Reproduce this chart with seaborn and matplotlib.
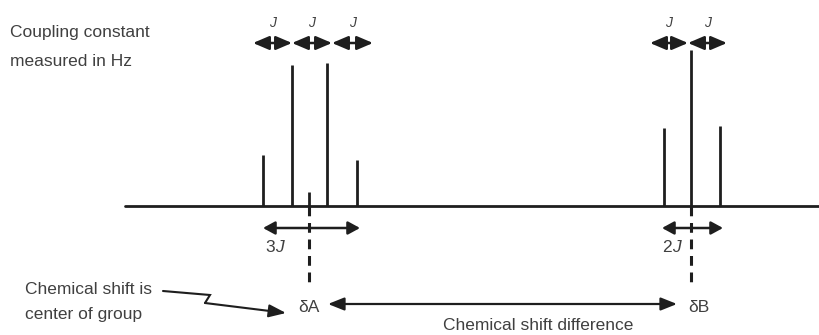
import matplotlib
matplotlib.use("Agg")
import matplotlib.pyplot as plt
import seaborn as sns
import pandas as pd

# ---- data (positions along the frequency axis, relative intensities) ----
quartet_pos = [263, 292, 327, 357]
quartet_int = [51, 141, 143, 46]
quartet_center = 309
quartet_center_int = 14
triplet_pos = [664, 691, 720]
triplet_int = [78, 156, 80]
J_labels_A = ["J", "J", "J"]
J_labels_B = ["J", "J"]

sns.set_theme(style="white")
plt.rcParams['font.family'] = ['Liberation Sans', 'DejaVu Sans']

fig = plt.figure(figsize=(8.19, 3.35), dpi=100)
ax = fig.add_axes([0, 0, 1, 1])
ax.set_xlim(0, 819)
ax.set_ylim(335, 0)
ax.axis("off")

base = 206
ink = "#1e1e1e"
txt = "#404040"
fs = 12.5

df = pd.DataFrame({
    "pos": quartet_pos + [quartet_center] + triplet_pos,
    "int": quartet_int + [quartet_center_int] + triplet_int,
})
df["top"] = base - df["int"]

# baseline
sns.lineplot(x=[125, 819], y=[base, base], ax=ax, color=ink, lw=2)
# peaks
ax.vlines(df["pos"], df["top"], base, color=ink, lw=2)

# dashed center lines
for c in [quartet_center, triplet_pos[1]]:
    ax.plot([c, c], [base, 282], color=ink, lw=2.2, ls=(0, (3.2, 2.2)))

def darrow(x0, x1, y, ms=13, hl=0.55, hw=0.3, lw=1.8):
    ax.annotate("", xy=(x1, y), xytext=(x0, y),
                arrowprops=dict(arrowstyle=f"<|-|>,head_length={hl},head_width={hw}",
                                color=ink, lw=lw, mutation_scale=ms,
                                shrinkA=0, shrinkB=0))

jfont = dict(fontsize=10, style="italic", color=txt, ha="center", va="center",
             family=["Liberation Sans", "DejaVu Sans"])

# J arrows (top)
edgesA = [253, 292, 332, 373]
for i in range(3):
    darrow(edgesA[i], edgesA[i + 1], 43, hl=0.75, hw=0.32)
    ax.text((edgesA[i] + edgesA[i + 1]) / 2, 23, J_labels_A[i], **jfont)
edgesB = [650, 688, 727]
for i in range(2):
    darrow(edgesB[i], edgesB[i + 1], 43, hl=0.75, hw=0.32)
    ax.text((edgesB[i] + edgesB[i + 1]) / 2, 23, J_labels_B[i], **jfont)

# total width arrows
darrow(263, 360, 228)
darrow(662, 723, 228)
ax.text(275, 247, "3", ha="right", va="center", fontsize=fs, color=txt)
ax.text(275, 247, "J", ha="left", va="center", fontsize=fs, color=txt, style="italic")
ax.text(672, 247, "2", ha="right", va="center", fontsize=fs, color=txt)
ax.text(672, 247, "J", ha="left", va="center", fontsize=fs, color=txt, style="italic")

# chemical shift labels
ax.text(quartet_center, 307, "δA", ha="center", va="center", fontsize=fs, color=txt)
ax.text(699, 307, "δB", ha="center", va="center", fontsize=fs, color=txt)
ax.annotate("", xy=(677, 304), xytext=(328, 304),
            arrowprops=dict(arrowstyle="<|-|>,head_length=0.75,head_width=0.3",
                            color=ink, lw=1.6, mutation_scale=13, shrinkA=0, shrinkB=0))
ax.text(538, 326, "Chemical shift difference", ha="center", va="center", fontsize=fs, color=txt)

# left texts
ax.text(10, 33, "Coupling constant", ha="left", va="center", fontsize=fs, color=txt)
ax.text(10, 62, "measured in Hz", ha="left", va="center", fontsize=fs, color=txt)
ax.text(25, 289, "Chemical shift is", ha="left", va="center", fontsize=fs, color=txt)
ax.text(25, 314, "center of group", ha="left", va="center", fontsize=fs, color=txt)

# zigzag arrow
zx = [163, 210, 205]
zy = [291, 295, 303]
ax.plot(zx, zy, color=ink, lw=1.5, solid_joinstyle="miter")
ax.annotate("", xy=(286, 313), xytext=(zx[2], zy[2]),
            arrowprops=dict(arrowstyle="-|>,head_length=0.8,head_width=0.3",
                            color=ink, lw=1.5, mutation_scale=13, shrinkA=0, shrinkB=0))

fig.savefig("out.png", dpi=100, facecolor="white")
